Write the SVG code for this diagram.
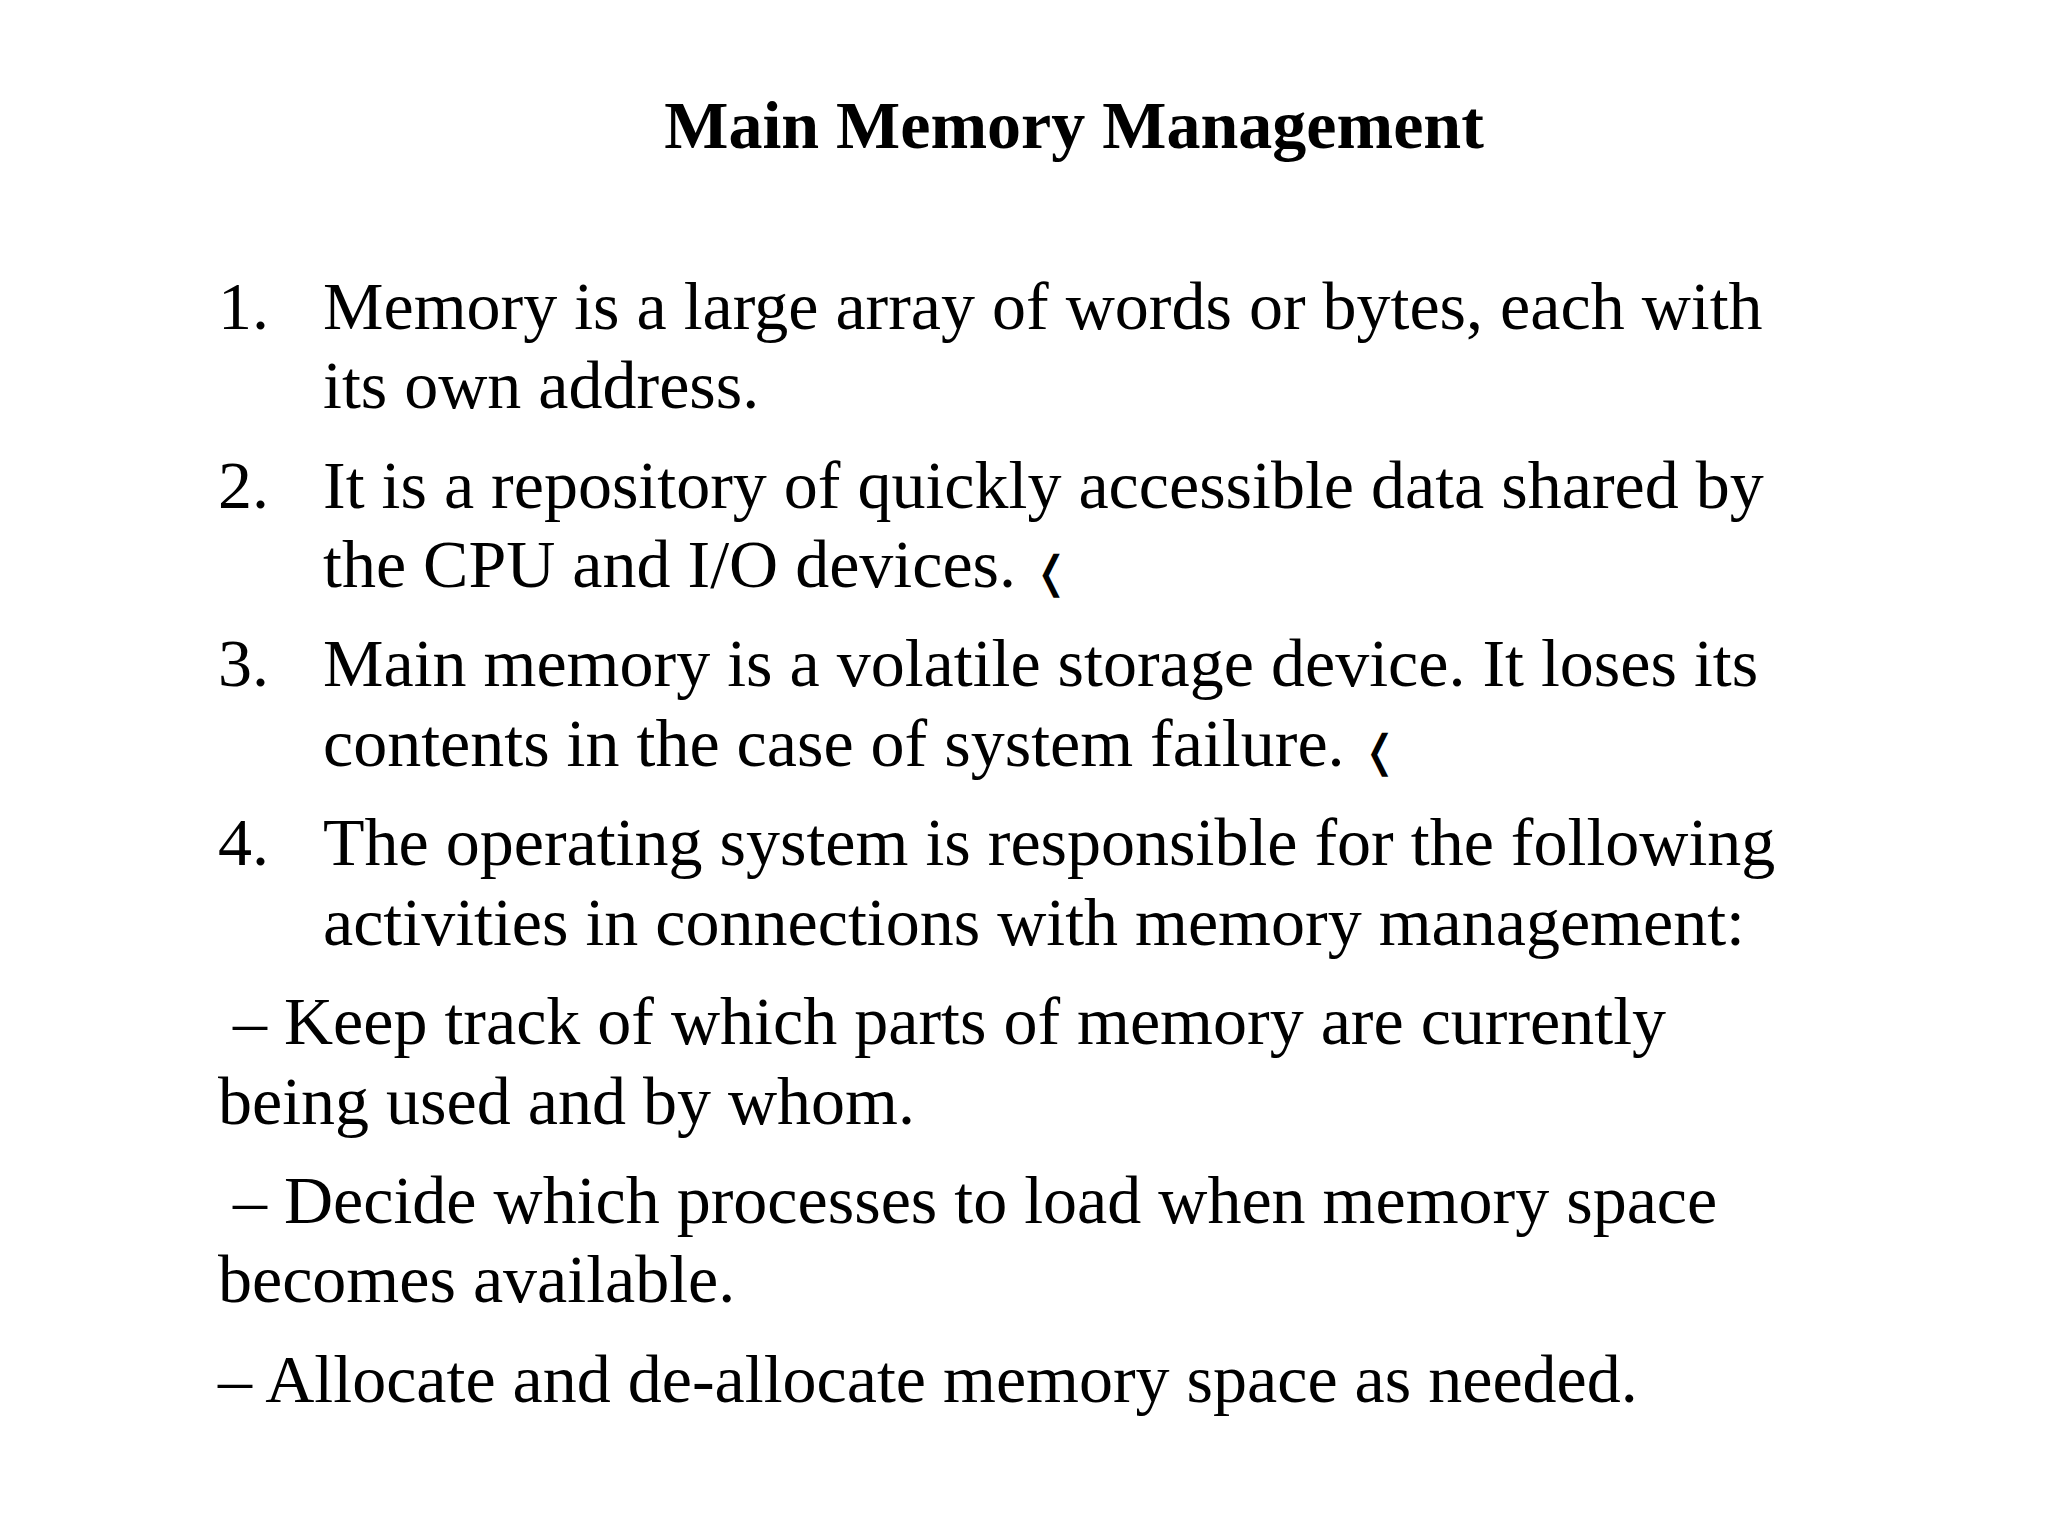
<svg xmlns="http://www.w3.org/2000/svg" width="2048" height="1536" viewBox="0 0 2048 1536">
<style>
text{font-family:"Liberation Serif","Times New Roman",serif;fill:#000}
.t{font-size:68px;font-weight:bold}
.b{font-size:68px}
</style>
<rect width="2048" height="1536" fill="#fff"/>
<text class="t" x="1074" y="148" text-anchor="middle">Main Memory Management</text>
<g class="b">
<text class="b" x="218" y="329">1.</text>
<text class="b" x="323" y="329">Memory is a large array of words or bytes, each with</text>
<text class="b" x="323" y="408">its own address.</text>
<text class="b" x="218" y="508">2.</text>
<text class="b" x="323" y="508">It is a repository of quickly accessible data shared by</text>
<text class="b" x="323" y="587">the CPU and I/O devices. <tspan font-family="DejaVu Sans" font-weight="bold" font-size="44">❬</tspan></text>
<text class="b" x="218" y="686">3.</text>
<text class="b" x="323" y="686">Main memory is a volatile storage device. It loses its</text>
<text class="b" x="323" y="766">contents in the case of system failure. <tspan font-family="DejaVu Sans" font-weight="bold" font-size="44">❬</tspan></text>
<text class="b" x="218" y="865">4.</text>
<text class="b" x="323" y="865">The operating system is responsible for the following</text>
<text class="b" x="323" y="945">activities in connections with memory management:</text>
<text class="b" x="233" y="1044">– Keep track of which parts of memory are currently</text>
<text class="b" x="218" y="1124">being used and by whom.</text>
<text class="b" x="233" y="1223">– Decide which processes to load when memory space</text>
<text class="b" x="218" y="1302">becomes available.</text>
<text class="b" x="218" y="1402">– Allocate and de-allocate memory space as needed.</text>
</g>
</svg>
